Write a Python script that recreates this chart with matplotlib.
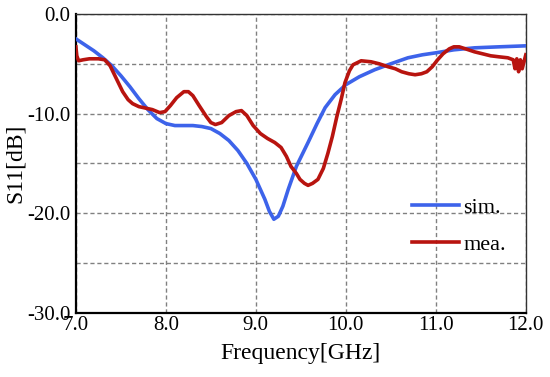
import matplotlib

matplotlib.use("Agg")
import matplotlib.pyplot as plt  # noqa: E402

# simulated S11
sim_freq = [7.0, 7.1, 7.2, 7.3, 7.4, 7.5, 7.6, 7.7, 7.8, 7.9, 8.0, 8.1, 8.2, 8.3,
            8.4, 8.5, 8.6, 8.7, 8.8, 8.9, 9.0, 9.1, 9.15, 9.2, 9.25, 9.3, 9.36,
            9.45, 9.58, 9.68, 9.77, 9.88, 10.0, 10.15, 10.32, 10.5, 10.69, 10.85,
            11.0, 11.2, 11.43, 11.7, 12.0]
sim_s11 = [-2.5, -3.1, -3.7, -4.4, -5.2, -6.2, -7.3, -8.5, -9.6, -10.5, -11.0,
           -11.2, -11.2, -11.2, -11.3, -11.5, -12.0, -12.7, -13.7, -15.0, -16.6,
           -18.6, -19.8, -20.6, -20.3, -19.3, -17.6, -15.3, -12.9, -11.0, -9.4,
           -8.1, -7.1, -6.3, -5.6, -5.0, -4.4, -4.1, -3.9, -3.6, -3.4, -3.3, -3.2]

# measured S11
mea_freq = [7.0, 7.01, 7.03, 7.08, 7.15, 7.25, 7.32, 7.38, 7.45, 7.52, 7.58, 7.63,
            7.7, 7.75, 7.85, 7.93, 7.99, 8.05, 8.12, 8.2, 8.25, 8.3, 8.37, 8.45,
            8.5, 8.55, 8.62, 8.7, 8.78, 8.84, 8.9, 8.97, 9.05, 9.13, 9.21, 9.28,
            9.34, 9.39, 9.45, 9.49, 9.54, 9.58, 9.63, 9.69, 9.75, 9.8, 9.85, 9.9,
            9.95, 9.99, 10.04, 10.08, 10.17, 10.28, 10.37, 10.47, 10.55, 10.62,
            10.7, 10.77, 10.84, 10.9, 10.96, 11.02, 11.08, 11.15, 11.2, 11.26,
            11.33, 11.43, 11.52, 11.61, 11.7, 11.8, 11.86, 11.88, 11.9, 11.92,
            11.94, 11.96, 11.98, 12.0]
mea_s11 = [-3.3, -4.2, -4.7, -4.6, -4.5, -4.5, -4.6, -5.2, -6.5, -7.8, -8.6, -9.0,
           -9.3, -9.4, -9.6, -9.9, -9.8, -9.2, -8.4, -7.8, -7.8, -8.2, -9.2, -10.3,
           -10.9, -11.1, -10.9, -10.2, -9.8, -9.7, -10.2, -11.2, -12.0, -12.5,
           -12.9, -13.4, -14.3, -15.3, -16.0, -16.6, -17.0, -17.2, -17.0, -16.6,
           -15.5, -14.0, -12.3, -10.3, -8.5, -6.9, -5.7, -5.1, -4.7, -4.8, -5.0,
           -5.3, -5.5, -5.8, -6.0, -6.1, -6.0, -5.8, -5.3, -4.6, -4.0, -3.5,
           -3.3, -3.3, -3.5, -3.8, -4.0, -4.2, -4.3, -4.4, -4.6, -5.5, -4.5,
           -5.8, -4.6, -5.5, -4.8, -4.1]

x_ticks = [7.0, 8.0, 9.0, 10.0, 11.0, 12.0]
y_ticks = [0.0, -5.0, -10.0, -15.0, -20.0, -25.0, -30.0]

plt.rcParams["font.family"] = ["Liberation Serif", "DejaVu Serif"]

fig = plt.figure(figsize=(5.5, 3.77), dpi=100)
ax = fig.add_axes([0.138, 0.170, 0.818, 0.793])

ax.plot(sim_freq, sim_s11, color="#3d63ea", lw=2.6, label="sim.", zorder=3)
ax.plot(mea_freq, mea_s11, color="#b8140f", lw=2.6, label="mea.", zorder=4)

ax.set_xlim(7.0, 12.0)
ax.set_ylim(-30.0, 0.0)
ax.set_xticks(x_ticks)
ax.set_xticklabels([f"{v:.1f}" for v in x_ticks])
ax.set_yticks(y_ticks)
ax.set_yticklabels([f"{v:.1f}" if v % 10 == 0 else "" for v in y_ticks])
ax.tick_params(length=0, labelsize=15)
ax.tick_params(axis="x", pad=2)
ax.tick_params(axis="y", pad=4)
ax.grid(True, ls=(0, (3, 2)), color="#808080", lw=1.0)

for s in ("left", "bottom"):
    ax.spines[s].set_linewidth(1.6)
    ax.spines[s].set_color("black")
for s in ("top", "right"):
    ax.spines[s].set_linewidth(1.0)
    ax.spines[s].set_color("#333333")

ax.set_xlabel("Frequency[GHz]", fontsize=17, labelpad=6)
ax.set_ylabel("S11[dB]", fontsize=17, labelpad=1)

ax.legend(loc="center right", bbox_to_anchor=(1.0, 0.29), frameon=False,
          fontsize=16, handlelength=2.1, handletextpad=0.2, labelspacing=0.75)

fig.savefig("out.png", dpi=100)
